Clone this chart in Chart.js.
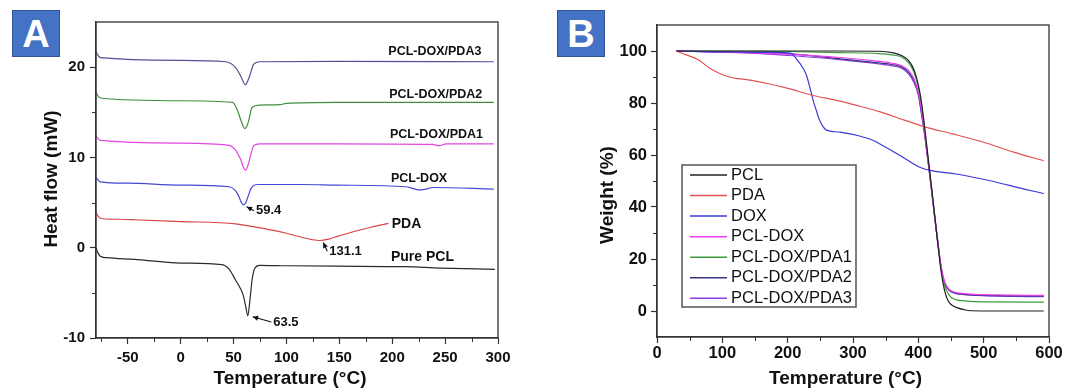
<!DOCTYPE html>
<html>
<head>
<meta charset="utf-8">
<script src="https://cdn.jsdelivr.net/npm/chart.js@4.4.0/dist/chart.umd.min.js"></script>
<style>
  body { margin: 0; background: #fff; width: 1065px; height: 389px; position: relative; overflow: hidden; }
  canvas { position: absolute; top: 0; }
  #cA { left: 0; }
  #cB { left: 530px; }
  .tag { position: absolute; top: 10px; width: 46px; height: 45px; background: #4472c4; border: 1px solid #2f5597;
         color: #fff; font: bold 38px "Liberation Sans", Arial, sans-serif; text-align: center; line-height: 46px; }
</style>
</head>
<body>
<canvas id="cA" width="530" height="389"></canvas>
<canvas id="cB" width="535" height="389"></canvas>
<div class="tag" style="left:12px">A</div>
<div class="tag" style="left:557px">B</div>
<script>
// ---- Panel A: DSC curves (temperature °C, heat flow mW) ----
const pclT = [-80, -78, -76, -70, -44, 0, 39, 46, 52, 56, 59, 61.5, 63.5, 65.5, 67.5, 70, 74.7, 100, 148, 212, 245, 297];
const pclH = [0, -0.6, -0.95, -1.1, -1.3, -1.7, -1.87, -2.4, -3.6, -4.4, -5.2, -6.5, -7.55, -5.8, -3.6, -2.3, -1.95, -2.0, -2.05, -2.1, -2.25, -2.4];

const pdaT = [-80, -78, -76, -60, -44, 0, 52, 84, 100, 116, 124, 131.1, 140, 148, 164, 180, 196.5];
const pdaH = [3.9, 3.5, 3.26, 3.15, 3.1, 2.9, 2.65, 2.0, 1.6, 1.1, 0.9, 0.8, 0.95, 1.25, 1.8, 2.27, 2.7];

const doxT = [-80, -78, -76, -50, 0, 45.8, 52, 55, 57, 59.4, 61.5, 63.5, 66.7, 70, 73, 116, 148, 212.5, 220, 225, 232, 238, 296];
const doxH = [7.77, 7.5, 7.3, 7.15, 6.93, 6.75, 6.3, 5.7, 5.1, 4.75, 4.95, 5.6, 6.6, 6.95, 7.0, 7.0, 6.93, 6.75, 6.55, 6.4, 6.5, 6.67, 6.49];

const pda1T = [-80, -78, -76, 0, 45.8, 52, 55, 57, 59, 61.5, 63, 65, 67, 68.9, 74.7, 148, 238, 244.6, 251, 296];
const pda1H = [12.43, 12.1, 11.88, 11.59, 11.33, 10.8, 10.2, 9.7, 9.0, 8.6, 8.9, 9.7, 10.6, 11.3, 11.51, 11.51, 11.44, 11.3, 11.5, 11.51];

const pda2T = [-80, -78, -76, 0, 49, 53.8, 57, 60.8, 62.8, 64.4, 67.6, 74.7, 94, 100, 148, 296];
const pda2H = [17.2, 16.8, 16.58, 16.28, 16.1, 15.2, 14.1, 13.2, 13.5, 14.1, 15.55, 15.8, 15.84, 15.99, 16.1, 16.1];

const pda3T = [-80, -78, -76, 0, 42.6, 52, 56.4, 61.5, 63.5, 65.5, 68.9, 74.7, 148, 296];
const pda3H = [21.7, 21.3, 21.05, 20.76, 20.6, 19.95, 19.1, 18.05, 18.5, 19.1, 20.3, 20.6, 20.64, 20.6];

const xTicksA = [-50, 0, 50, 100, 150, 200, 250, 300];
const yTicksA = [-10, 0, 10, 20];
const minorXA = [-75, -25, 25, 75, 125, 175, 225, 275];
const minorYA = [-5, 5, 15];

// curve names written beside the curves, and the peak values
const nameText = ['PCL-DOX/PDA3', 'PCL-DOX/PDA2', 'PCL-DOX/PDA1', 'PCL-DOX', 'PDA', 'Pure PCL'];
const nameX = [196.3, 197.2, 197.9, 198.8, 199.5, 198.8];
const nameY = [21.74, 16.95, 12.56, 7.69, 2.62, -1.05];
const nameSize = [12.5, 12.5, 12.5, 12.5, 14, 14];

const peakText = ['59.4', '131.1', '63.5'];
const peakTextX = [71.2, 140.5, 87.6];
const peakTextY = [4.1, -0.39, -8.22];
const peakTipX = [62.4, 134.8, 68.1];
const peakTipY = [4.54, 0.57, -7.64];

// ---- Panel B: TGA curves (temperature °C, weight %) ----
const tgLabels = ['PCL', 'PDA', 'DOX', 'PCL-DOX', 'PCL-DOX/PDA1', 'PCL-DOX/PDA2', 'PCL-DOX/PDA3'];

const mixT = [30, 150, 200, 280, 340, 360, 375, 385, 393, 400, 405, 410, 415, 420, 425, 430, 435, 440, 445, 450, 460, 470, 480, 520, 592];
const tgPcl   = [100, 100, 100, 100, 99.9, 99.4, 98.2, 96.3, 93, 87, 80, 70, 59, 48, 37, 25.5, 15, 8, 4.2, 2.5, 1.2, 0.5, 0.1, 0, 0];
const tgPcld  = [100, 99.3, 98.8, 97.5, 96, 95.3, 94.3, 92.5, 89.5, 84, 77, 68, 58, 47.5, 36.5, 26.5, 17, 11.5, 9, 7.8, 7, 6.7, 6.5, 6.2, 6];
const tgPda1  = [100, 99.9, 99.8, 99.4, 99, 98.5, 97.6, 95.5, 92, 86, 79, 69, 58, 47.5, 36.5, 25.8, 16, 10, 7, 5.3, 4.2, 3.9, 3.7, 3.5, 3.4];
const tgPda2  = [100, 99.4, 99, 97, 95.4, 94.8, 93.8, 91.8, 88.8, 83.5, 76, 67.5, 57.5, 47.2, 36.3, 26, 16.5, 11, 8.7, 7.5, 6.7, 6.4, 6.2, 5.9, 5.8];
const tgPda3  = [100, 99.1, 98.3, 96.7, 95, 94.3, 93.3, 91.2, 88, 83, 75.5, 67, 57, 46.8, 36, 25.8, 16.3, 11, 8.6, 7.4, 6.6, 6.3, 6.1, 5.7, 5.5];

const tgPdaT = [29, 45, 62, 82, 108, 145, 171, 202, 239, 275, 307, 343, 380, 411, 453, 500, 547, 592];
const tgPda  = [100, 98.5, 96.8, 93.2, 90.2, 88.7, 87.4, 85.5, 82.9, 81, 79, 76.5, 73.3, 70.7, 68.1, 64.9, 61, 57.8];

const tgDoxT = [29, 100, 200, 206, 215, 224, 229, 234, 239, 244, 249, 257, 265, 280, 310, 331, 350, 372, 402, 420, 458, 510, 562, 592];
const tgDox  = [100, 99.7, 99.3, 99, 96.5, 93.2, 90.5, 86, 81, 77, 73.3, 70, 69.2, 68.8, 67.3, 65.6, 63, 59.8, 55.3, 54, 52.7, 50.1, 46.9, 45.2];

const xTicksB = [0, 100, 200, 300, 400, 500, 600];
const yTicksB = [0, 20, 40, 60, 80, 100];
const minorXB = [50, 150, 250, 350, 450, 550];
const minorYB = [10, 30, 50, 70, 90];

const FONT = '"Liberation Sans", Arial, sans-serif';
Chart.defaults.font.family = FONT;
Chart.defaults.color = '#111';

function pts(xs, ys) {
    return xs.map((x, i) => ({ x: x, y: ys[i] }));
}

function line(label, xs, ys, color) {
    return {
        label: label,
        data: pts(xs, ys),
        borderColor: color,
        backgroundColor: color,
        borderWidth: 1.2,
        pointRadius: 0,
        fill: false,
        cubicInterpolationMode: 'monotone'
    };
}

// short ticks between the labelled ones, plus the box round the plot
const minorTicks = {
    id: 'minorTicks',
    afterDraw(chart, args, opts) {
        const { ctx, chartArea: a } = chart;
        const sx = chart.scales.x, sy = chart.scales.y;
        ctx.save();
        ctx.strokeStyle = '#333';
        ctx.lineWidth = 1;
        opts.x.forEach(v => {
            const p = Math.round(sx.getPixelForValue(v)) + 0.5;
            ctx.beginPath(); ctx.moveTo(p, a.bottom); ctx.lineTo(p, a.bottom + 4); ctx.stroke();
        });
        opts.y.forEach(v => {
            const p = Math.round(sy.getPixelForValue(v)) + 0.5;
            ctx.beginPath(); ctx.moveTo(a.left, p); ctx.lineTo(a.left - 4, p); ctx.stroke();
        });
        ctx.lineWidth = 1.3;
        ctx.strokeRect(a.left, a.top, a.right - a.left, a.bottom - a.top);
        ctx.restore();
    }
};

// axis titles
const axisTitles = {
    id: 'axisTitles',
    afterDraw(chart, args, o) {
        const ctx = chart.ctx;
        ctx.save();
        ctx.fillStyle = '#111';
        ctx.font = 'bold 19px ' + FONT;
        ctx.textAlign = 'center';
        ctx.textBaseline = 'middle';
        ctx.fillText(o.xText, o.xPos[0], o.xPos[1]);
        ctx.translate(o.yPos[0], o.yPos[1]);
        ctx.rotate(-Math.PI / 2);
        ctx.fillText(o.yText, 0, 0);
        ctx.restore();
    }
};

// names and peak arrows in panel A
const dscNotes = {
    id: 'dscNotes',
    afterDatasetsDraw(chart) {
        const ctx = chart.ctx;
        const sx = chart.scales.x, sy = chart.scales.y;
        ctx.save();
        ctx.fillStyle = '#111';
        ctx.textAlign = 'left';
        ctx.textBaseline = 'middle';
        nameText.forEach((t, i) => {
            ctx.font = 'bold ' + nameSize[i] + 'px ' + FONT;
            ctx.fillText(t, sx.getPixelForValue(nameX[i]), sy.getPixelForValue(nameY[i]));
        });
        ctx.font = 'bold 13px ' + FONT;
        ctx.strokeStyle = '#111';
        ctx.lineWidth = 1.1;
        peakText.forEach((t, i) => {
            const tx = sx.getPixelForValue(peakTextX[i]);
            const ty = sy.getPixelForValue(peakTextY[i]);
            ctx.fillText(t, tx, ty);
            const x0 = tx - 2, y0 = ty;
            const x1 = sx.getPixelForValue(peakTipX[i]);
            const y1 = sy.getPixelForValue(peakTipY[i]);
            ctx.beginPath(); ctx.moveTo(x0, y0); ctx.lineTo(x1, y1); ctx.stroke();
            const ang = Math.atan2(y1 - y0, x1 - x0);
            ctx.beginPath();
            ctx.moveTo(x1, y1);
            ctx.lineTo(x1 - 6 * Math.cos(ang - 0.45), y1 - 6 * Math.sin(ang - 0.45));
            ctx.lineTo(x1 - 6 * Math.cos(ang + 0.45), y1 - 6 * Math.sin(ang + 0.45));
            ctx.closePath();
            ctx.fill();
        });
        ctx.restore();
    }
};

// framed legend inside panel B
const boxLegend = {
    id: 'boxLegend',
    afterDraw(chart, args, o) {
        const ctx = chart.ctx;
        ctx.save();
        ctx.fillStyle = '#fff';
        ctx.fillRect(o.x, o.y, o.w, o.h);
        ctx.strokeStyle = '#555';
        ctx.lineWidth = 1.5;
        ctx.strokeRect(o.x, o.y, o.w, o.h);
        ctx.font = '16.5px ' + FONT;
        ctx.textAlign = 'left';
        ctx.textBaseline = 'middle';
        chart.data.datasets.forEach((ds, i) => {
            const yy = o.y + o.first + i * o.step;
            ctx.strokeStyle = ds.borderColor;
            ctx.lineWidth = 1.5;
            ctx.beginPath(); ctx.moveTo(o.x + 8, yy); ctx.lineTo(o.x + 45, yy); ctx.stroke();
            ctx.fillStyle = '#111';
            ctx.fillText(ds.label, o.x + 49, yy);
        });
        ctx.restore();
    }
};

function axes(xMin, xMax, yMin, yMax, xTicks, yTicks, xH, yW, size, xPad, yPad) {
    const grid = { drawOnChartArea: false, tickLength: 6, color: '#333', tickColor: '#333', tickWidth: 1.2 };
    const border = { color: '#333', width: 1.3 };
    return {
        x: {
            type: 'linear', min: xMin, max: xMax,
            afterBuildTicks: s => { s.ticks = xTicks.map(v => ({ value: v })); },
            afterFit: s => { s.height = xH; },
            grid: grid, border: border,
            ticks: { color: '#111', font: { size: size, weight: 'bold' }, padding: xPad, maxRotation: 0, autoSkip: false }
        },
        y: {
            type: 'linear', min: yMin, max: yMax,
            afterBuildTicks: s => { s.ticks = yTicks.map(v => ({ value: v })); },
            afterFit: s => { s.width = yW; },
            grid: grid, border: border,
            ticks: { color: '#111', font: { size: size, weight: 'bold' }, padding: yPad, autoSkip: false }
        }
    };
}

new Chart(document.getElementById('cA'), {
    type: 'line',
    data: {
        datasets: [
            line('Pure PCL', pclT, pclH, '#2a2a2a'),
            line('PDA', pdaT, pdaH, '#d94545'),
            line('PCL-DOX', doxT, doxH, '#4747d6'),
            line('PCL-DOX/PDA1', pda1T, pda1H, '#e046e0'),
            line('PCL-DOX/PDA2', pda2T, pda2H, '#3f8f3f'),
            line('PCL-DOX/PDA3', pda3T, pda3H, '#51519a')
        ]
    },
    options: {
        responsive: false,
        animation: false,
        layout: { padding: { left: 0, right: 32, top: 22, bottom: 0 } },
        scales: axes(-80, 300, -10, 25, xTicksA, yTicksA, 51, 96, 15, 5, 5),
        plugins: {
            legend: { display: false },
            tooltip: { enabled: false },
            minorTicks: { x: minorXA, y: minorYA },
            axisTitles: { xText: 'Temperature (°C)', xPos: [290, 379], yText: 'Heat flow (mW)', yPos: [52, 179] }
        }
    },
    plugins: [minorTicks, axisTitles, dscNotes]
});

new Chart(document.getElementById('cB'), {
    type: 'line',
    data: {
        datasets: [
            line(tgLabels[0], mixT, tgPcl, '#222222'),
            line(tgLabels[1], tgPdaT, tgPda, '#e05252'),
            line(tgLabels[2], tgDoxT, tgDox, '#3a3ad8'),
            line(tgLabels[3], mixT, tgPcld, '#f03cf0'),
            line(tgLabels[4], mixT, tgPda1, '#3d9a3d'),
            line(tgLabels[5], mixT, tgPda2, '#35357f'),
            line(tgLabels[6], mixT, tgPda3, '#8c3ee0')
        ]
    },
    options: {
        responsive: false,
        animation: false,
        layout: { padding: { left: 0, right: 16, top: 25, bottom: 0 } },
        scales: axes(0, 600, -10, 110, xTicksB, yTicksB, 52, 127, 16.5, 1, 4),
        plugins: {
            legend: { display: false },
            tooltip: { enabled: false },
            minorTicks: { x: minorXB, y: minorYB },
            axisTitles: { xText: 'Temperature (°C)', xPos: [315.5, 379], yText: 'Weight (%)', yPos: [77.5, 195] },
            boxLegend: { x: 152, y: 165, w: 174, h: 142, first: 10, step: 20.55 }
        }
    },
    plugins: [minorTicks, axisTitles, boxLegend]
});
</script>
</body>
</html>
